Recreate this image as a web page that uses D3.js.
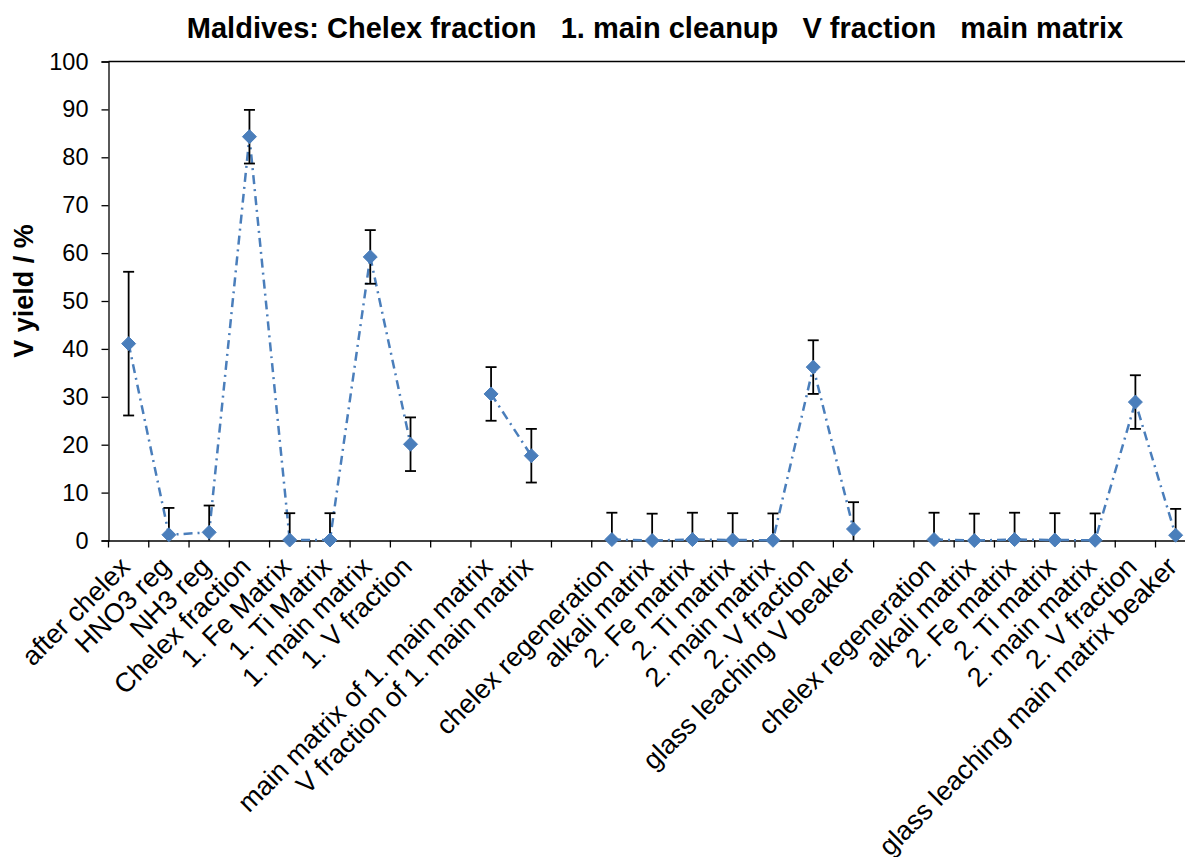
<!DOCTYPE html>
<html><head><meta charset="utf-8">
<script src="https://cdn.jsdelivr.net/npm/d3@7/dist/d3.min.js"></script>
<style>body{margin:0;background:#fff}svg{display:block}text{font-family:"Liberation Sans",Arial,sans-serif}</style>
</head><body>
<svg id="c" width="1185" height="857"></svg>
<script>
const categories = ["after chelex","HNO3 reg","NH3 reg","Chelex fraction","1. Fe Matrix","1. Ti Matrix","1. main matrix","1. V fraction","",
"main matrix of 1. main matrix","V fraction of 1. main matrix","",
"chelex regeneration","alkali matrix","2. Fe matrix","2. Ti matrix","2. main matrix","2. V fraction","glass leaching V beaker","",
"chelex regeneration","alkali matrix","2. Fe matrix","2. Ti matrix","2. main matrix","2. V fraction","glass leaching main matrix beaker"];
const values = [41.1,1.2,1.7,84.3,0.1,0.1,59.2,20.1,null,30.6,17.7,null,0.2,0.0,0.2,0.1,0.05,36.2,2.4,null,0.2,0.0,0.2,0.1,0.05,28.9,1.1];
const errors = [15.0,5.6,5.6,5.6,5.6,5.6,5.6,5.6,null,5.6,5.6,null,5.6,5.6,5.6,5.6,5.6,5.6,5.6,null,5.6,5.6,5.6,5.6,5.6,5.6,5.5];
const yTicks = [0,10,20,30,40,50,60,70,80,90,100];
const title = "Maldives: Chelex fraction   1. main cleanup   V fraction   main matrix";
const yTitle = "V yield / %";

const svg = d3.select("#c");
const mLeft = 108.5, mTop = 61.5, mBottom = 540.5, step = 40.27;
const mRight = mLeft + step*categories.length;
const idx = categories.map((d,i)=>i);
const x = d3.scaleBand().domain(idx).range([mLeft,mRight]).padding(0);
const y = d3.scaleLinear().domain([0,100]).range([mBottom,mTop]);
const blue = "#4A7EBB";

svg.append("path").attr("d",`M${mLeft},${mTop}H${mRight}V${mBottom}`).attr("fill","none").attr("stroke","#000").attr("stroke-width",1.3);

const ya = svg.append("g").attr("transform",`translate(${mLeft},0)`)
  .call(d3.axisLeft(y).tickValues(yTicks).tickSize(7).tickPadding(13));
ya.select(".domain").attr("stroke","#000").attr("stroke-width",1.3);
ya.selectAll(".tick line").attr("stroke","#000").attr("stroke-width",1.3);
ya.selectAll("text").attr("font-size",23.5).attr("fill","#000").attr("font-family","Liberation Sans, Arial, sans-serif");

const xa = svg.append("g").attr("transform",`translate(0,${mBottom})`)
  .call(d3.axisBottom(x).tickSize(0).tickFormat(""));
xa.select(".domain").attr("stroke","#000").attr("stroke-width",1.3);
const bounds = d3.range(categories.length+1).map(i=>mLeft+i*step);
svg.append("g").selectAll("line").data(bounds).join("line")
  .attr("x1",d=>d).attr("x2",d=>d).attr("y1",mBottom).attr("y2",mBottom+7)
  .attr("stroke","#000").attr("stroke-width",1.3);

svg.append("g").selectAll("text").data(categories).join("text")
  .attr("transform",(d,i)=>`translate(${x(i)+x.bandwidth()/2+3},${mBottom+28}) rotate(-45)`)
  .attr("text-anchor","end").attr("font-size",27).attr("fill","#000")
  .text(d=>d);

const data = values.map((v,i)=>({i,v,e:errors[i]}));
const pts = data.filter(d=>d.v!=null);
const cx = d=>x(d.i)+x.bandwidth()/2;

svg.append("path").datum(data)
  .attr("d",d3.line().defined(d=>d.v!=null).x(cx).y(d=>y(d.v)))
  .attr("fill","none").attr("stroke",blue).attr("stroke-width",2.5)
  .attr("stroke-dasharray","9,5,2,5");

const eb = svg.append("g").attr("stroke","#000").attr("stroke-width",1.8);
pts.forEach(d=>{
  const hi = Math.min(100,d.v+d.e), lo = d.v-d.e;
  const loC = Math.max(0,lo);
  eb.append("line").attr("x1",cx(d)).attr("x2",cx(d)).attr("y1",y(hi)).attr("y2",y(loC));
  eb.append("line").attr("x1",cx(d)-5.5).attr("x2",cx(d)+5.5).attr("y1",y(hi)).attr("y2",y(hi));
  if(lo>=0) eb.append("line").attr("x1",cx(d)-5.5).attr("x2",cx(d)+5.5).attr("y1",y(lo)).attr("y2",y(lo));
});

svg.append("g").selectAll("path").data(pts).join("path")
  .attr("transform",d=>`translate(${cx(d)},${y(d.v)})`)
  .attr("d","M0,-7L7,0L0,7L-7,0Z").attr("fill",blue).attr("stroke",blue).attr("stroke-width",1);

svg.append("text").attr("x",655).attr("y",38).attr("text-anchor","middle")
  .attr("font-size",29).attr("font-weight","bold").style("white-space","pre").text(title);
svg.append("text").attr("transform",`translate(33,${(mTop+mBottom)/2 - 10}) rotate(-90)`)
  .attr("text-anchor","middle").attr("font-size",27).attr("font-weight","bold").text(yTitle);
</script>
</body></html>
